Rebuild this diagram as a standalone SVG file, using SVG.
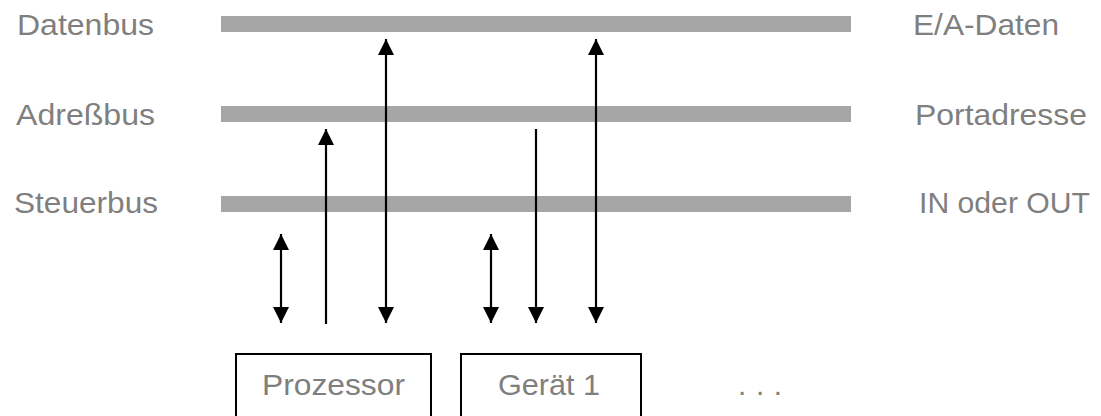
<svg xmlns="http://www.w3.org/2000/svg" width="1101" height="416" viewBox="0 0 1101 416">
  <style>
    .lbl { font-family: "Liberation Sans", Arial, Helvetica, sans-serif; font-size: 29.5px; fill: #7f7f7f; }
    .bus { fill: #a6a6a6; }
    .box { fill: #ffffff; stroke: #000000; stroke-width: 2; }
    .wire { stroke: #000000; stroke-width: 2.2; fill: none; }
  </style>
  <defs>
    <marker id="head" viewBox="0 0 16 16" refX="16" refY="8" markerWidth="16" markerHeight="16" markerUnits="userSpaceOnUse" orient="auto-start-reverse">
      <path d="M0,0 L16,8 L0,16 z" fill="#000000"/>
    </marker>
  </defs>

  <rect width="1101" height="416" fill="#ffffff"/>

  <!-- buses -->
  <g id="datenbus">
    <rect class="bus" x="221" y="16" width="630" height="16"/>
    <text class="lbl" x="17" y="35" textLength="137" lengthAdjust="spacingAndGlyphs">Datenbus</text>
    <text class="lbl" x="913" y="35" textLength="146" lengthAdjust="spacingAndGlyphs">E/A-Daten</text>
  </g>
  <g id="adressbus">
    <rect class="bus" x="221" y="106" width="630" height="16"/>
    <text class="lbl" x="16" y="125" textLength="139" lengthAdjust="spacingAndGlyphs">Adreßbus</text>
    <text class="lbl" x="915" y="125" textLength="172" lengthAdjust="spacingAndGlyphs">Portadresse</text>
  </g>
  <g id="steuerbus">
    <rect class="bus" x="221" y="196" width="630" height="16"/>
    <text class="lbl" x="14" y="213" textLength="144" lengthAdjust="spacingAndGlyphs">Steuerbus</text>
    <text class="lbl" x="919" y="213" textLength="171" lengthAdjust="spacingAndGlyphs">IN oder OUT</text>
  </g>

  <!-- devices -->
  <g id="prozessor">
    <rect class="box" x="236" y="354" width="195" height="80"/>
    <text class="lbl" x="262" y="395" textLength="143" lengthAdjust="spacingAndGlyphs">Prozessor</text>
  </g>
  <g id="geraet1">
    <rect class="box" x="461" y="354" width="180" height="80"/>
    <text class="lbl" x="498" y="395" textLength="102" lengthAdjust="spacingAndGlyphs">Gerät 1</text>
  </g>
  <g id="weitere">
    <text class="lbl" x="738" y="395" textLength="44" lengthAdjust="spacing">. . .</text>
  </g>

  <!-- connectors -->
  <g id="connectors">
    <line class="wire" x1="281" y1="234" x2="281" y2="323" marker-start="url(#head)" marker-end="url(#head)"/>
    <line class="wire" x1="326" y1="324" x2="326" y2="129" marker-end="url(#head)"/>
    <line class="wire" x1="386" y1="39" x2="386" y2="323" marker-start="url(#head)" marker-end="url(#head)"/>
    <line class="wire" x1="491" y1="234" x2="491" y2="323" marker-start="url(#head)" marker-end="url(#head)"/>
    <line class="wire" x1="536" y1="129" x2="536" y2="323" marker-end="url(#head)"/>
    <line class="wire" x1="596" y1="39" x2="596" y2="323" marker-start="url(#head)" marker-end="url(#head)"/>
  </g>
</svg>
